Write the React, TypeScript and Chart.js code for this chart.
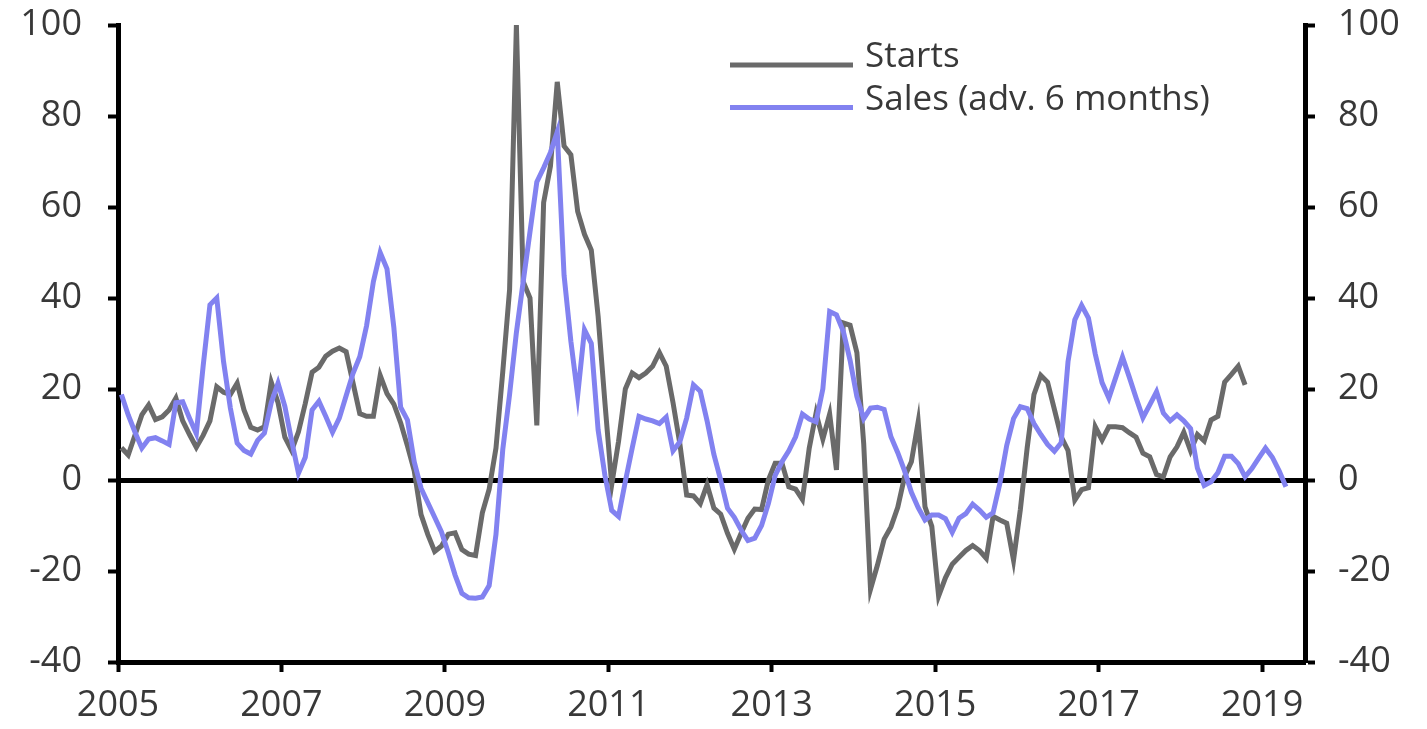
import React, { useEffect, useRef } from 'react';
import { Chart, registerables } from 'chart.js';

Chart.register(...registerables);

const startYear = 2005;
const xTickYears = [2005, 2007, 2009, 2011, 2013, 2015, 2017, 2019];
const yTickValues = [-40, -20, 0, 20, 40, 60, 80, 100];
const seriesNames = ['Starts', 'Sales (adv. 6 months)'];
const seriesColors = ['#6a6a6a', '#8282f0'];

// Monthly values from Jan 2005 (Starts to Oct 2018)
const starts = [
  7.1, 5.5, 9.9, 14.3, 16.5, 13.3, 13.9, 15.4, 18, 13, 10, 7.2,
  9.8, 13, 20.5, 19.3, 18.8, 21.3, 15.4, 11.6, 11, 11.7, 21.5, 17,
  9.4, 6.5, 10.6, 16.8, 23.7, 24.8, 27.2, 28.3, 29, 28.2, 21.4, 14.6,
  14, 14, 23, 19, 16.7, 12.6, 7.5, 2, -7.6, -12, -15.7, -14.5,
  -11.9, -11.6, -15.3, -16.3, -16.6, -7.2, -2, 7, 23.8, 41.8, 100, 43.6,
  40, 12, 61, 69, 87.5, 73.4, 71.5, 59, 54, 50.5, 36, 17,
  -1, 8.5, 20, 23.5, 22.5, 23.5, 25, 28, 25, 17, 8, -3.3,
  -3.5, -5.2, -1, -6.2, -7.5, -11.7, -15.2, -11.7, -8.4, -6.4, -6.5, 0,
  3.7, 3.7, -1.5, -2, -4.3, 7, 14.7, 9, 14.5, 2.2, 34.5, 34,
  28, 8, -24, -18.8, -13, -10.3, -6, 0.7, 4, 12.8, -5.9, -10.2,
  -25.5, -21.5, -18.5, -17, -15.5, -14.4, -15.5, -17.2, -8, -8.8, -9.5, -17.6,
  -6.5, 7, 18.8, 23, 21.5, 15.5, 9.5, 6.5, -4.4, -2.1, -1.7, 11.7,
  8.8, 11.7, 11.7, 11.5, 10.4, 9.4, 5.9, 5.1, 1.2, 0.7, 5.1, 7.3,
  10.5, 6.4, 10, 8.6, 13.2, 14, 21.5, 23.2, 25, 20.9
];

// Monthly values from Jan 2005 (Sales advanced 6 months, to Apr 2019)
const sales = [
  18.8, 14.3, 10.5, 7, 9, 9.3, 8.6, 7.8, 17, 17.2, 13.6, 10.2,
  25, 38.5, 40, 26, 15.8, 8.1, 6.5, 5.7, 8.7, 10.3, 17, 21.3,
  16.2, 8.6, 1.5, 5, 15.4, 17.3, 14, 10.5, 13.6, 18.5, 23.4, 27.1,
  33.9, 43.6, 50, 46.4, 33.6, 16, 13.2, 4, -1.8, -5, -8.2, -11.4,
  -16, -20.9, -24.9, -25.9, -26, -25.7, -23.2, -12, 6.7, 18.8, 32.4, 43.6,
  54.6, 65.5, 68.6, 72, 76.5, 45, 30.5, 18.6, 33, 30, 11, 1,
  -6.7, -8, -0.3, 7, 14, 13.4, 13, 12.4, 13.8, 6.4, 8.4, 13.6,
  20.9, 19.5, 13, 5.6, 0, -6.2, -8.2, -11, -13.3, -12.8, -10, -5.2,
  1, 4, 6.4, 9.5, 14.5, 13.4, 12.8, 20, 37, 36.3, 32.7, 26.3,
  18.3, 13.5, 15.8, 16, 15.5, 9.5, 6, 2, -2.7, -6.1, -8.8, -7.7,
  -7.7, -8.5, -11.5, -8.4, -7.4, -5.3, -6.6, -8.2, -7.2, -0.7, 7.6, 13.5,
  16.1, 15.7, 12.4, 10, 7.8, 6.3, 8.2, 26, 35.2, 38.4, 35.6, 27.7,
  21.4, 18, 22.5, 27, 22.6, 18, 13.7, 16.5, 19.4, 14.7, 13, 14.3,
  13, 11.3, 2.6, -1.2, -0.4, 1.6, 5.2, 5.2, 3.6, 0.7, 2.5, 4.8,
  7, 5, 2, -1.5
];

const FONT = '"Open Sans", "DejaVu Sans", sans-serif';
const TEXT_COLOR = '#383838';

const legendPlugin = {
  id: 'insideLegend',
  afterDraw(chart: any) {
    const ctx = chart.ctx;
    ctx.save();
    chart.data.datasets.forEach((ds: any, i: number) => {
      const y = 65 + i * 42.5;
      ctx.strokeStyle = ds.borderColor;
      ctx.lineWidth = 5;
      ctx.lineCap = 'butt';
      ctx.beginPath();
      ctx.moveTo(730, y);
      ctx.lineTo(853, y);
      ctx.stroke();
      ctx.fillStyle = TEXT_COLOR;
      ctx.font = `35px ${FONT}`;
      ctx.textAlign = 'left';
      ctx.textBaseline = 'alphabetic';
      ctx.fillText(ds.label, 865, y + 2);
    });
    ctx.restore();
  },
};

export default function App() {
  const canvasRef = useRef<HTMLCanvasElement>(null);

  useEffect(() => {
    document.body.style.margin = '0';
    const canvas = canvasRef.current;
    if (!canvas) return;
    const toPoints = (arr: number[]) => arr.map((v, i) => ({ x: i + 0.5, y: v }));
    const tickFont = { family: FONT, size: 36 };

    const yAxisCommon = (pos: 'left' | 'right', width: number) => ({
      type: 'linear' as const,
      position: pos,
      min: -40,
      max: 100,
      afterBuildTicks: (s: any) => {
        s.ticks = yTickValues.map((v) => ({ value: v }));
      },
      afterFit: (s: any) => {
        s.width = width;
        s.paddingTop = 0;
        s.paddingBottom = 0;
      },
      ticks: { font: tickFont, color: TEXT_COLOR, padding: pos === 'left' ? 26 : 23 },
      border: { color: '#000', width: 5 },
    });

    const chart = new Chart(canvas, {
      type: 'line',
      data: {
        datasets: [
          {
            label: seriesNames[0],
            data: toPoints(starts),
            borderColor: seriesColors[0],
            backgroundColor: seriesColors[0],
            borderWidth: 5,
            pointRadius: 0,
            tension: 0,
            order: 1,
            clip: 10,
          },
          {
            label: seriesNames[1],
            data: toPoints(sales),
            borderColor: seriesColors[1],
            backgroundColor: seriesColors[1],
            borderWidth: 5,
            pointRadius: 0,
            tension: 0,
            order: 0,
            clip: 10,
          },
        ],
      },
      options: {
        animation: false,
        responsive: true,
        maintainAspectRatio: false,
        layout: { padding: { top: 25, left: 0, right: 0, bottom: 0 }, autoPadding: false },
        plugins: {
          legend: { display: false },
          tooltip: { enabled: false },
        },
        scales: {
          x: {
            type: 'linear',
            min: 0,
            max: 174.3,
            afterBuildTicks: (s: any) => {
              s.ticks = xTickYears.map((y) => ({ value: (y - startYear) * 12 }));
            },
            afterFit: (s: any) => {
              s.height = 67;
              s.paddingLeft = 0;
              s.paddingRight = 0;
            },
            ticks: {
              font: tickFont,
              color: TEXT_COLOR,
              padding: 12,
              maxRotation: 0,
              autoSkip: false,
              callback: (v: any) => String(startYear + Math.round(Number(v) / 12)),
            },
            grid: {
              drawOnChartArea: false,
              drawTicks: true,
              tickLength: 10,
              tickColor: '#000',
              tickWidth: 4,
            },
            border: { color: '#000', width: 5 },
          },
          y: {
            ...yAxisCommon('left', 118),
            grid: {
              drawOnChartArea: true,
              drawTicks: true,
              tickLength: 10,
              tickColor: '#000',
              tickWidth: 4,
              color: (c: any) => (c.tick && c.tick.value === 0 ? '#000' : 'rgba(0,0,0,0)'),
              lineWidth: (c: any) => (c.tick && c.tick.value === 0 ? 5 : 1),
            },
          },
          y2: {
            ...yAxisCommon('right', 122),
            grid: {
              drawOnChartArea: false,
              drawTicks: true,
              tickLength: 10,
              tickColor: '#000',
              tickWidth: 4,
            },
          },
        },
      },
      plugins: [legendPlugin],
    });

    return () => chart.destroy();
  }, []);

  return (
    <div style={{ width: 1427, height: 729, position: 'relative', background: '#fff' }}>
      <canvas ref={canvasRef} />
    </div>
  );
}
